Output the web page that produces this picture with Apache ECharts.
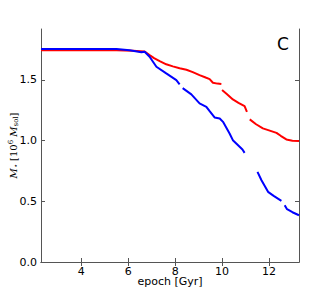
<!DOCTYPE html>
<html><head><meta charset="utf-8">
<script src="https://cdn.jsdelivr.net/npm/echarts@6/dist/echarts.min.js"></script>
<style>html,body{margin:0;padding:0;background:#fff}#c{width:332px;height:291px}</style>
</head><body><div id="c"></div>
<script>
var xTicks = [4, 6, 8, 10, 12];
var yTicks = [0, 0.5, 1.0, 1.5];
var redX = [2.28, 3.5, 4.5, 5.5, 6.2, 6.7, 6.91, 7.1, 7.34, 7.62, 7.9, 8.19, 8.48, 8.75, 9.04, 9.3, 9.47, 9.61, 9.8, 9.97, 9.985, 10.0, 10.2, 10.46, 10.7, 10.96, 11.06, 11.12, 11.18, 11.45, 11.74, 12.0, 12.32, 12.5, 12.74, 13.0, 13.28];
var redY = [1.745, 1.745, 1.745, 1.744, 1.740, 1.735, 1.705, 1.680, 1.656, 1.629, 1.612, 1.596, 1.584, 1.565, 1.540, 1.520, 1.507, 1.477, 1.470, 1.466, null, 1.417, 1.385, 1.340, 1.312, 1.285, 1.238, null, 1.175, 1.135, 1.101, 1.085, 1.064, 1.040, 1.010, 1.000, 0.998];
var blueX = [2.28, 4.0, 5.5, 6.06, 6.56, 6.7, 6.91, 7.2, 7.62, 8.05, 8.19, 8.25, 8.32, 8.69, 9.04, 9.33, 9.47, 9.68, 9.9, 10.04, 10.32, 10.46, 10.87, 10.96, 11.2, 11.51, 11.68, 11.96, 12.2, 12.53, 12.6, 12.67, 12.77, 13.0, 13.28];
var blueY = [1.755, 1.755, 1.755, 1.744, 1.728, 1.733, 1.691, 1.609, 1.554, 1.499, 1.464, null, 1.433, 1.381, 1.307, 1.279, 1.243, 1.191, 1.183, 1.155, 1.059, 1.004, 0.927, 0.899, null, 0.743, 0.674, 0.578, 0.545, 0.503, null, 0.468, 0.435, 0.410, 0.385];

function pairs(xs, ys) {
  return xs.map(function (x, i) { return [x, ys[i] === null ? '-' : ys[i]]; });
}
var font = 'DejaVu Sans';
var axisLineStyle = { color: '#555', width: 1 };
var chart = echarts.init(document.getElementById('c'), null, { renderer: 'svg' });
chart.setOption({
  animation: false,
  grid: { left: 41, right: 33, top: 29, bottom: 29, outerBoundsMode: 'none' },
  xAxis: [{
    type: 'value', min: 2.28, max: 13.28, position: 'bottom',
    name: 'epoch [Gyr]', nameLocation: 'middle', nameGap: 14, nameMoveOverlap: false,
    nameTextStyle: { fontFamily: font, fontSize: 11, color: '#000' },
    axisLine: { lineStyle: axisLineStyle },
    axisTick: { inside: true, length: 4, customValues: xTicks, lineStyle: axisLineStyle },
    axisLabel: { customValues: xTicks, fontFamily: font, fontSize: 11, color: '#000', margin: 4 },
    splitLine: { show: false }
  }, {
    type: 'value', min: 2.28, max: 13.28, position: 'top',
    axisLine: { lineStyle: axisLineStyle },
    axisTick: { inside: true, length: 4, customValues: xTicks, lineStyle: axisLineStyle },
    axisLabel: { show: false }, splitLine: { show: false }
  }],
  yAxis: [{
    type: 'value', min: 0, max: 1.92, position: 'left',
    name: '{i|M}{s|⋆} {n|[10}{sup|6}{i| M}{s|sol}{n|]}',
    nameLocation: 'middle', nameGap: 22, nameMoveOverlap: false,
    nameTextStyle: {
      color: '#000',
      rich: {
        i: { fontFamily: 'DejaVu Serif', fontStyle: 'italic', fontSize: 10, color: '#000' },
        n: { fontFamily: 'DejaVu Serif', fontSize: 10, color: '#000' },
        s: { fontFamily: 'DejaVu Serif', fontSize: 7, color: '#000', verticalAlign: 'bottom', padding: [4, 0, 0, 0] },
        sup: { fontFamily: 'DejaVu Serif', fontSize: 7, color: '#000', verticalAlign: 'top', padding: [0, 0, 5, 0] }
      }
    },
    axisLine: { show: true, lineStyle: axisLineStyle },
    axisTick: { show: true, inside: true, length: 4, customValues: yTicks, lineStyle: axisLineStyle },
    axisLabel: { customValues: yTicks, fontFamily: font, fontSize: 11, color: '#000', margin: 4,
      formatter: function (v) { return v.toFixed(1); } },
    splitLine: { show: false }
  }, {
    type: 'value', min: 0, max: 1.92, position: 'right',
    axisLine: { show: true, lineStyle: axisLineStyle },
    axisTick: { show: true, inside: true, length: 4, customValues: yTicks, lineStyle: axisLineStyle },
    axisLabel: { show: false }, splitLine: { show: false }
  }],
  graphic: [{ type: 'text', left: 277, top: 35,
    style: { text: 'C', fontFamily: font, fontSize: 17, fill: '#000' } }],
  series: [{
    type: 'line', xAxisIndex: 0, yAxisIndex: 0, data: pairs(redX, redY),
    showSymbol: false, connectNulls: false, lineStyle: { color: '#ff0000', width: 2 }, z: 2
  }, {
    type: 'line', xAxisIndex: 0, yAxisIndex: 0, data: pairs(blueX, blueY),
    showSymbol: false, connectNulls: false, lineStyle: { color: '#0000ff', width: 2 }, z: 3
  }]
});
</script></body></html>
